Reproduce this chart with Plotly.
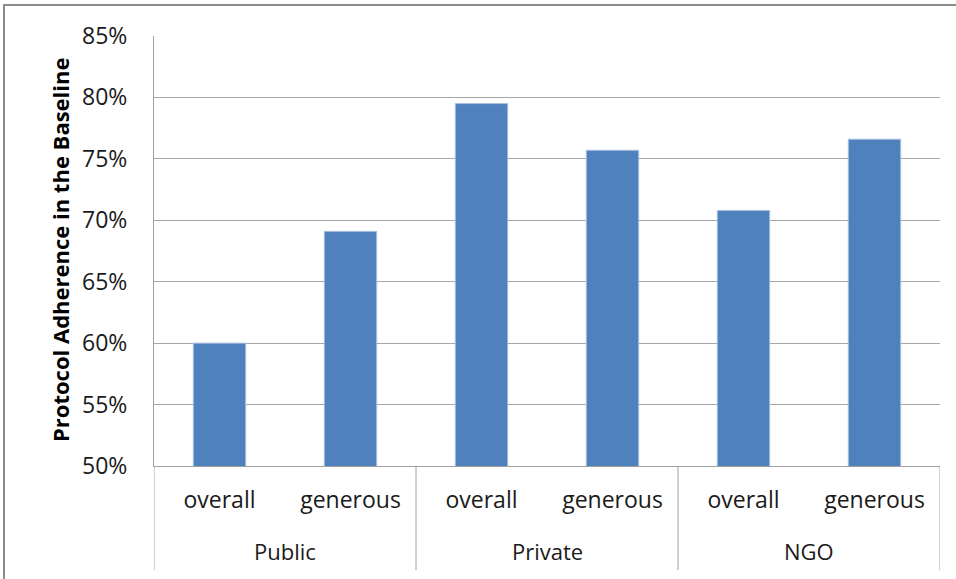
import plotly.graph_objects as go

groups = ["Public", "Private", "NGO"]
subgroups = ["overall", "generous"]
values = [0.600, 0.691, 0.795, 0.757, 0.708, 0.766]
y_ticks = [0.50, 0.55, 0.60, 0.65, 0.70, 0.75, 0.80, 0.85]
y_ticklabels = ["50%", "55%", "60%", "65%", "70%", "75%", "80%", "85%"]
y_title = "Protocol Adherence in the Baseline"

FONT = "Open Sans, Noto Sans, sans-serif"
W, H = 956, 579
L, R, T, B = 154, 16, 36, 113
pw, ph = W - L - R, H - T - B

def px_x(p):
    return (p - L) / pw

def px_y(p):
    return (T + ph - p) / ph

xs = list(range(len(values)))
ticktext = [s for g in groups for s in subgroups]

fig = go.Figure()
fig.add_trace(go.Bar(
    x=xs, y=values,
    marker=dict(color="#4F81BD", line=dict(color="#A9C1E0", width=1)),
    width=0.4,
))

shapes = []
# outer border (cut by page edge at right and bottom)
shapes.append(dict(type="rect", xref="paper", yref="paper",
                   x0=px_x(4), x1=px_x(962), y0=px_y(590), y1=px_y(5),
                   line=dict(color="#8C8C8C", width=2), fillcolor="rgba(0,0,0,0)", layer="below"))
# group dividers
n_sub = len(subgroups)
for i in range(len(groups) + 1):
    xv = i * n_sub - 0.5
    shapes.append(dict(type="line", xref="x", yref="paper", x0=xv, x1=xv,
                       y0=0, y1=px_y(570), line=dict(color="#A0A0A0", width=1)))

annotations = []
for i, g in enumerate(groups):
    annotations.append(dict(x=i * n_sub + (n_sub - 1) / 2, y=px_y(551), xref="x", yref="paper",
                            text=g, showarrow=False, font=dict(family=FONT, size=22, color="#1a1a1a"),
                            xanchor="center", yanchor="middle"))
annotations.append(dict(x=px_x(60), y=px_y(250), xref="paper", yref="paper", text="<b>" + y_title + "</b>",
                        textangle=-90, showarrow=False, font=dict(family=FONT, size=22, color="#000000"),
                        xanchor="center", yanchor="middle"))

fig.update_layout(
    width=W, height=H,
    margin=dict(l=L, r=R, t=T, b=B, autoexpand=False),
    paper_bgcolor="white", plot_bgcolor="white",
    showlegend=False,
    shapes=shapes, annotations=annotations,
    font=dict(family=FONT, color="#1a1a1a"),
)
fig.update_xaxes(
    range=[-0.5, len(values) - 0.5], tickmode="array", tickvals=xs, ticktext=ticktext,
    showgrid=False, zeroline=False, showline=True, linecolor="#A0A0A0", linewidth=1,
    ticks="", tickfont=dict(family=FONT, size=23, color="#1a1a1a"), ticklabelstandoff=13,
)
fig.update_yaxes(
    range=[0.5, 0.85], tickmode="array", tickvals=y_ticks, ticktext=y_ticklabels,
    showgrid=True, gridcolor="#A6A6A6", gridwidth=1, zeroline=False,
    showline=True, linecolor="#A0A0A0", linewidth=1,
    ticks="", tickfont=dict(family=FONT, size=23, color="#1a1a1a"), ticklabelstandoff=21,
)

fig.write_html("out.html", config={"displayModeBar": False},
               post_script="document.body.style.margin='0';document.body.style.overflow='hidden';")
